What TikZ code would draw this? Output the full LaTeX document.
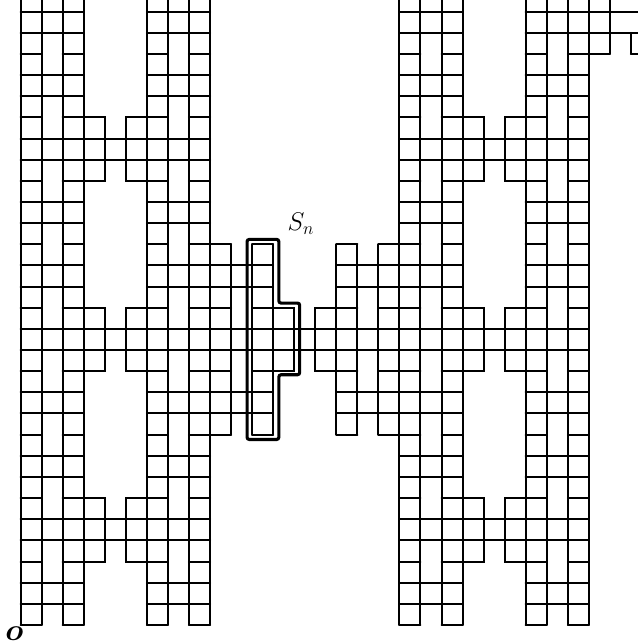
\documentclass[tikz,border=0pt]{standalone}
\usepackage{amsmath,amssymb,bm}
\usepackage{tikz}
\newcommand{\ladder}[4]{%
 \foreach \k in {0,...,3}{\draw (#1+\k,#2) -- (#1+\k,#4);}
 \foreach \j in {#2,...,#3}{\draw (#1,\j) -- (#1+1,\j) (#1+2,\j) -- (#1+3,\j);
  \pgfmathtruncatemacro{\rem}{mod(\j,3)}
  \ifnum\rem>0 \draw (#1+1,\j) -- (#1+2,\j);\fi}}
\newcommand{\hump}[2]{%
 \draw (#1,#2-1) rectangle (#1+1,#2+2) (#1+2,#2-1) rectangle (#1+3,#2+2)
  (#1,#2) -- (#1+3,#2) (#1,#2+1) -- (#1+3,#2+1);}

\begin{document}
\begin{tikzpicture}[x=0.5cm,y=0.5025cm,line width=1.35pt,line cap=round,font=\LARGE]
 \useasboundingbox (-0.98,-0.9) rectangle (29.33,29.55);
 \clip (-0.98,-0.9) rectangle (29.33,29.55);
 \foreach \s in {0,6,18,24}{\ladder{\s}{0}{29}{30}}
 \foreach \s in {9,15}{\ladder{\s}{9}{18}{18}}
 \foreach \b in {4,13,22}{\hump{3}{\b} \hump{21}{\b}}
 \hump{12}{13}
 \draw (28,27) -- (28,30) (29,27) -- (29,28) (28,28) -- (29,28) (28,29) -- (29,29);
 \foreach \j in {27,28,29}{\draw (27,\j) -- (28,\j) (29,\j) -- (30,\j);}
 \draw[line width=2.1pt,rounded corners=1.5pt] (10.76,8.77) -- (10.76,18.23) -- (12.27,18.23) -- (12.27,15.22)
  -- (13.26,15.22) -- (13.26,11.83) -- (12.27,11.83) -- (12.27,8.77) -- cycle;
 \node (Sn) at (13.32,18.95) {$S_n$};
 \node[font=\huge] (o) at (-0.3,-0.4) {$\boldsymbol{o}$};
\end{tikzpicture}
\end{document}
